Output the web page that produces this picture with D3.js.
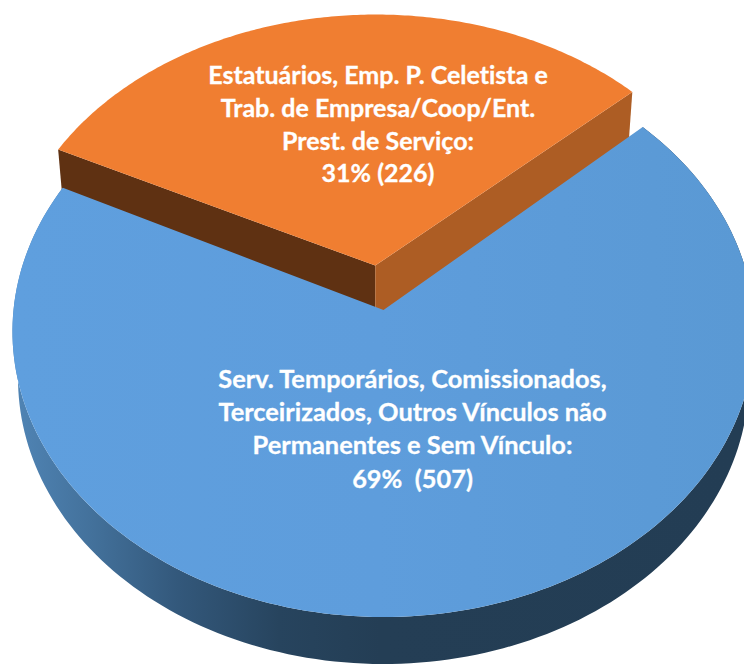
<!DOCTYPE html>
<html lang="pt">
<head>
<meta charset="utf-8">
<title>Vínculos</title>
<script src="https://cdnjs.cloudflare.com/ajax/libs/d3/7.8.5/d3.min.js"></script>
<style>
html,body{margin:0;padding:0;background:#fff;overflow:hidden}
svg{display:block}
text{font-family:Lato,"Open Sans",sans-serif;font-weight:700;fill:#fff;stroke:#fff;stroke-width:.3;text-anchor:middle;font-variant-ligatures:none}
</style>
</head>
<body>
<svg id="chart" width="744" height="664"></svg>
<script>
const categories = ["Serv. Temporários e outros", "Estatuários e outros"];
const values = [507, 226];
const labelLines = [
  ["Serv. Temporários, Comissionados,", "Terceirizados, Outros Vínculos não", "Permanentes e Sem Vínculo:", "69%  (507)"],
  ["Estatuários, Emp. P. Celetista e", "Trab. de Empresa/Coop/Ent.", "Prest. de Serviço:", "31% (226)"]
];
const topColors = ["url(#blueTop)", "#f07e31"];

const svg = d3.select("#chart");
const W = 744, H = 664;
const cx = 383.5, cy = 310, rx = 370, ry = 284, persp = 0.075;
const rotation = 47.4 * Math.PI / 180;
const explode = [0, 0.16];
const depth = [47, 54];
const flatten = [1, 0.97];
const lowerScale = 0.985;

const slices = d3.pie().sort(null).value(d => d)
  .startAngle(rotation).endAngle(rotation + 2 * Math.PI)(values);

function project(theta, r, off, f) {
  const X = r * Math.sin(theta) + off[0];
  const Y = r * Math.cos(theta) * f + off[1];
  const w = 1 + persp * Y;
  return [cx + rx * X / w, cy - ry * Y / w];
}
const line = d3.line();

const defs = svg.append("defs");
const sideGrad = defs.append("linearGradient").attr("id", "blueSide")
  .attr("gradientUnits", "userSpaceOnUse").attr("x1", 20).attr("x2", 740).attr("y1", 0).attr("y2", 0);
[[0, "#4f83b3"], [0.1, "#43719b"], [0.22, "#33587b"], [0.36, "#27445e"], [0.5, "#243e55"], [1, "#233d54"]]
  .forEach(s => sideGrad.append("stop").attr("offset", s[0]).attr("stop-color", s[1]));
const topGrad = defs.append("linearGradient").attr("id", "blueTop")
  .attr("gradientUnits", "userSpaceOnUse").attr("x1", 12).attr("x2", 744).attr("y1", 0).attr("y2", 0);
[[0, "#5f9fde"], [0.5, "#5e9ddc"], [1, "#5a99d4"]]
  .forEach(s => topGrad.append("stop").attr("offset", s[0]).attr("stop-color", s[1]));

function geometry(d, i) {
  const mid = (d.startAngle + d.endAngle) / 2;
  const off = [explode[i] * Math.sin(mid), explode[i] * Math.cos(mid)];
  const n = 180;
  const thetas = d3.range(n + 1).map(j => d.startAngle + (d.endAngle - d.startAngle) * j / n);
  const arc = thetas.map(t => project(t, 1, off, flatten[i]));
  const apex = project(0, 0, off, flatten[i]);
  const lower = p => [apex[0] + (p[0] - apex[0]) * lowerScale, p[1] + depth[i]];
  return { arc, apex, lower };
}

// orange wedge: radial walls and top, behind the blue wedge
const o = geometry(slices[1], 1);
const oLeft = o.arc[0], oRight = o.arc[o.arc.length - 1];
svg.append("path").attr("fill", "#5f3112")
  .attr("d", line([o.apex, oLeft, o.lower(oLeft), o.lower(o.apex)]) + "Z");
svg.append("path").attr("fill", "#ad5d24")
  .attr("d", line([o.apex, oRight, o.lower(oRight), o.lower(o.apex)]) + "Z");
svg.append("path").attr("fill", topColors[1])
  .attr("d", line([o.apex, ...o.arc]) + "Z");

// blue wedge: outer wall and top
const b = geometry(slices[0], 0);
svg.append("path").attr("fill", "url(#blueSide)")
  .attr("d", line([...b.arc, ...b.arc.map(b.lower).reverse()]) + "Z");
svg.append("path").attr("fill", topColors[0])
  .attr("d", line([b.apex, ...b.arc]) + "Z");

// labels
const labelPos = [
  { x: 412.5, y: 388, dy: 33.2, size: 25.4 },
  { x: 378, y: 84, dy: 32.8, size: 25 }
];
labelLines.forEach((lines, i) => {
  svg.append("g").attr("class", "label").selectAll("text").data(lines).join("text")
    .attr("x", labelPos[i].x)
    .attr("y", (d, j) => labelPos[i].y + j * labelPos[i].dy)
    .attr("font-size", labelPos[i].size)
    .style("white-space", "pre")
    .text(d => d);
});
</script>
</body>
</html>
